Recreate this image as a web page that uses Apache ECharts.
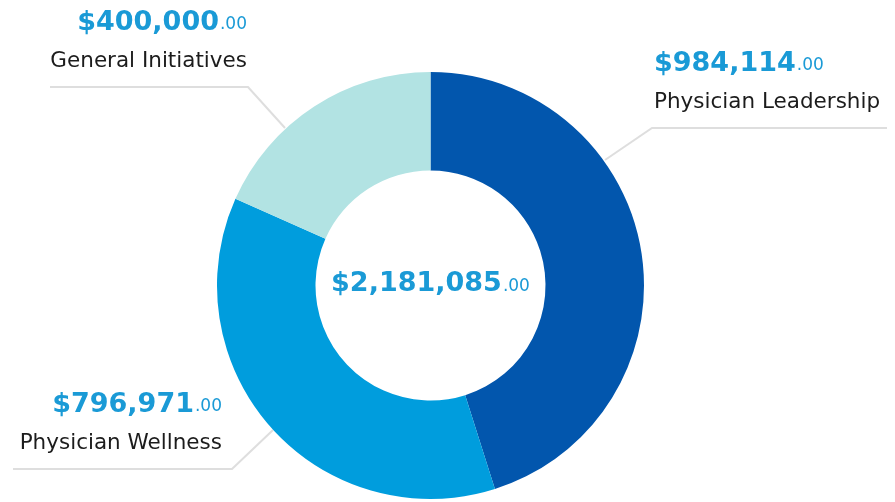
<!DOCTYPE html>
<html>
<head>
<meta charset="utf-8">
<script src="https://cdn.jsdelivr.net/npm/echarts@6/dist/echarts.min.js"></script>
<style>
html,body{margin:0;padding:0;background:#fff;}
#chart{width:895px;height:502px;}
</style>
</head>
<body>
<div id="chart"></div>
<script>
// ---- data ----
const categories = ['Physician Leadership', 'Physician Wellness', 'General Initiatives'];
const values = [984114, 796971, 400000];

// ---- styles / layout ----
const sliceColors = ['#0256ad', '#009ddd', '#b2e3e3'];
const valueColor = '#1a9ad6';
const nameColor = '#1c1c1c';
const labelLayouts = [
  { x: 654, y: 44, align: 'left',  line: [[605, 160], [652, 128], [887, 128]] },
  { x: 222, y: 385, align: 'right', line: [[273, 430], [232, 469], [13, 469]] },
  { x: 247, y: 3,   align: 'right', line: [[285, 128], [248, 87], [50, 87]] }
];

function money(v) {
  const whole = Math.floor(v);
  const cents = (v - whole).toFixed(2).slice(1);
  return { whole: '$' + whole.toLocaleString('en-US'), cents: cents };
}

function richFor(align, colorKey) {
  const ck = colorKey || 'color';
  const v = { fontFamily: 'DejaVu Sans', fontWeight: 'bold', fontSize: 27, lineHeight: 39, align: align };
  const c = { fontFamily: 'DejaVu Sans', fontSize: 17, padding: [5, 0, 0, 1], align: align };
  const n = { fontFamily: 'DejaVu Sans', fontSize: 21.5, lineHeight: 39, align: align };
  v[ck] = valueColor; c[ck] = valueColor; n[ck] = nameColor;
  return { v: v, c: c, n: n };
}

const total = values.reduce((a, b) => a + b, 0);
const tm = money(total);

const chart = echarts.init(document.getElementById('chart'), null, { renderer: 'canvas' });
chart.setOption({
  animation: false,
  backgroundColor: '#ffffff',
  graphic: [{
    type: 'text',
    x: 430.5,
    y: 284,
    style: {
      text: '{v|' + tm.whole + '}{c|' + tm.cents + '}',
      align: 'center',
      verticalAlign: 'middle',
      fill: valueColor,
      rich: richFor('center', 'fill')
    },
    z: 10
  }],
  series: [{
    type: 'pie',
    center: [430.5, 285.5],
    radius: [115, 213.5],
    startAngle: 90,
    clockwise: true,
    avoidLabelOverlap: false,
    emphasis: { disabled: true },
    label: { show: true, position: 'outside' },
    labelLine: { show: true, lineStyle: { color: '#dedede', width: 2 } },
    labelLayout: function (params) {
      const L = labelLayouts[params.dataIndex];
      return { x: L.x, y: L.y, align: L.align, verticalAlign: 'top', labelLinePoints: L.line };
    },
    data: categories.map((name, i) => {
      const m = money(values[i]);
      const L = labelLayouts[i];
      return {
        name: name,
        value: values[i],
        itemStyle: { color: sliceColors[i] },
        label: {
          formatter: '{v|' + m.whole + '}{c|' + m.cents + '}\n{n|' + name + '}',
          align: L.align,
          rich: richFor(L.align)
        }
      };
    })
  }]
});
</script>
</body>
</html>
